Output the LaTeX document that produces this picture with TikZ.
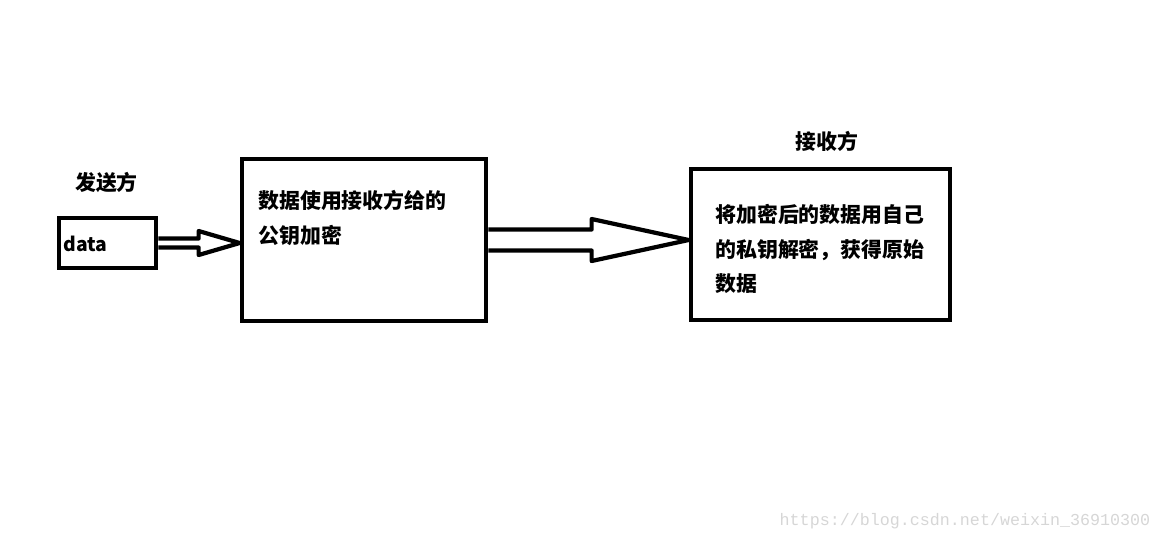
\documentclass[tikz,border=0pt]{standalone}
\usepackage{fontspec}
\usetikzlibrary{positioning,calc}
\newfontfamily\cjk{Noto Sans CJK SC}
\setmonofont{Liberation Mono}
\definecolor{boxline}{HTML}{000000}
\definecolor{wmark}{HTML}{D6D6D6}

\begin{document}
\begin{tikzpicture}[
    x=0.02cm, y=-0.02cm,
    every node/.style={font=\cjk\bfseries\fontsize{11.9}{19.6}\selectfont},
    box/.style={
        draw=boxline,
        line width=2.7pt,
        inner sep=0pt,
    },
    boxtext/.style={
        anchor=north west,
        inner sep=0pt,
        align=left,
    },
    hollow/.style={draw=boxline,line width=2.4pt,line join=round},
]
\useasboundingbox (0,0) rectangle (1162,542);

% Sender
\node[box,minimum width=97*0.02cm,minimum height=50*0.02cm] (data) at (107.5,243) {};
\node[boxtext,anchor=west,font=\cjk\bfseries\fontsize{11}{13}\selectfont] (datatext) at (63,244) {data};
\node (sender) at (106.5,182) {发送方};

% Encrypt
\node[box,minimum width=244*0.02cm,minimum height=162*0.02cm] (encrypt) at (364,240) {};
\node[boxtext] (enctext) at (258,190) {数据使用接收方给的\\公钥加密};

% Receiver
\node[box,minimum width=259*0.02cm,minimum height=151*0.02cm] (decrypt) at (820.5,244.5) {};
\node[boxtext] (dectext) at (715,204) {将加密后的数据用自己\\的私钥解密，获得原始\\数据};
\node (receiver) at (827,141) {接收方};

% Hollow arrows
\coordinate (tipa) at (data.east -| encrypt.west);
\draw[hollow] ($(data.east)+(0,-4.5)$) -- ($(tipa)+(-41,-4.5)$) -- ($(tipa)+(-41,-12)$)
    -- (tipa) -- ($(tipa)+(-41,12)$) -- ($(tipa)+(-41,4.5)$) -- ($(data.east)+(0,4.5)$);

\coordinate (tipb) at (encrypt.east -| decrypt.west);
\draw[hollow] ($(encrypt.east)+(0,-10.5)$) -- ($(tipb)+(-97,-10.5)$) -- ($(tipb)+(-97,-21)$)
    -- (tipb) -- ($(tipb)+(-97,21)$) -- ($(tipb)+(-97,10.5)$) -- ($(encrypt.east)+(0,10.5)$);

% Watermark
\node[font=\ttfamily\fontsize{9.5}{11}\selectfont,text=wmark] (wm) at (965,521) {https://blog.csdn.net/weixin\_36910300};

\end{tikzpicture}
\end{document}
